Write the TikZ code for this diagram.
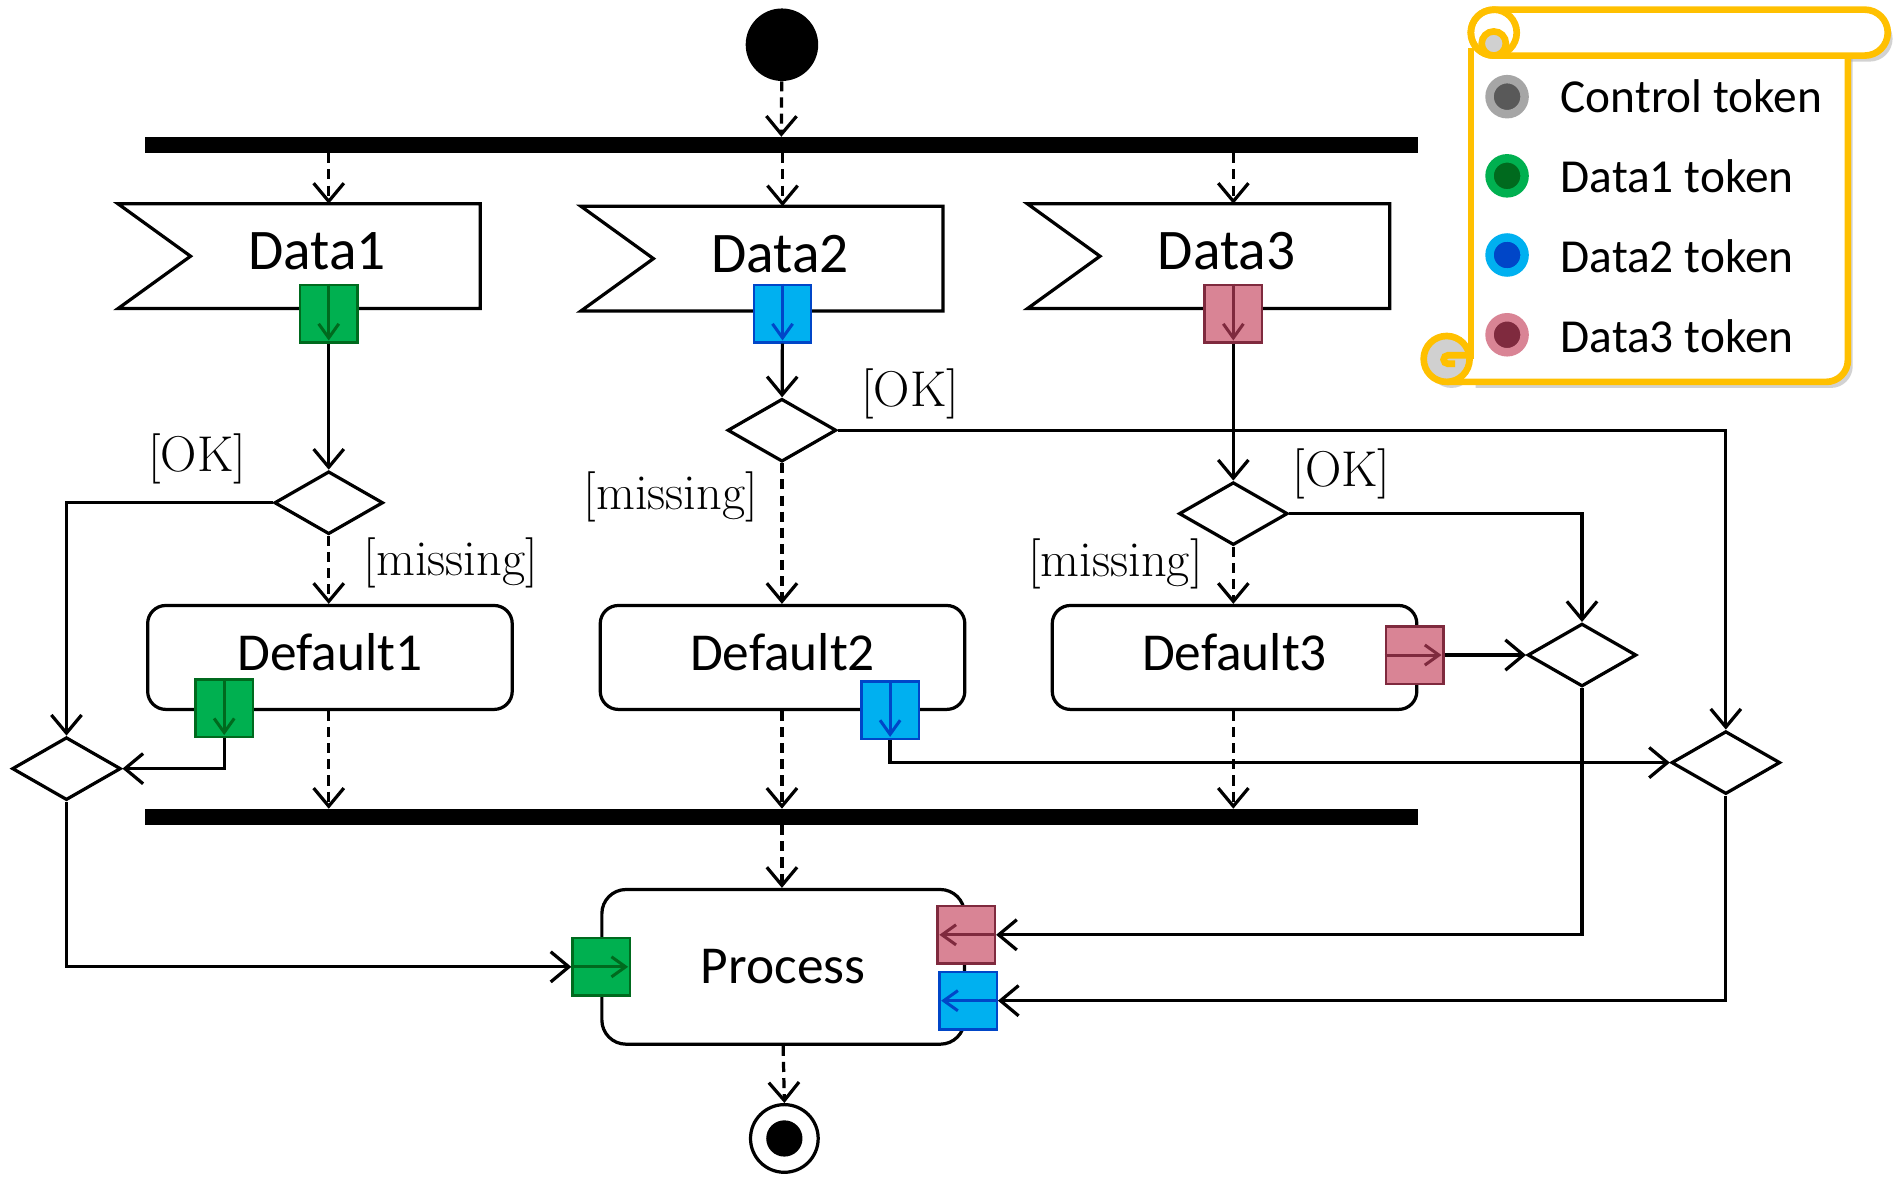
\documentclass[tikz,border=0pt]{standalone}
\usepackage{fontspec}
\newfontfamily\calibfont{Carlito}
\usetikzlibrary{arrows.meta,shapes.geometric}

\definecolor{dataA}{HTML}{00B050}
\definecolor{dataAdark}{HTML}{006A1E}
\definecolor{dataB}{HTML}{00B0F0}
\definecolor{dataBdark}{HTML}{0046C8}
\definecolor{dataC}{HTML}{D98495}
\definecolor{dataCdark}{HTML}{7F2A3E}
\definecolor{ctrlA}{HTML}{A6A6A6}
\definecolor{ctrlAdark}{HTML}{595959}
\definecolor{scrollc}{HTML}{FFC000}
\definecolor{curl}{HTML}{D0D0D0}

\newcommand\nodefont{\calibfont\fontsize{26.5}{32}\selectfont}
\newcommand\eventfont{\calibfont\fontsize{28.5}{34}\selectfont}

\tikzset{
  flow/.style={line width=1.6pt, -{Straight Barb[length=9pt,width=15pt]}},
  ctrl/.style={flow, dash pattern=on 5pt off 3pt},
  event/.style={draw=none, inner sep=0pt, minimum width=179.4pt, minimum height=51.6pt,
    label={[font=\eventfont, xshift=9pt, yshift=2.4pt]center:#1}},
  action/.style={draw, line width=1.6pt, rounded corners=9pt, inner sep=0pt, text depth=5pt,
    minimum width=181pt, minimum height=51.6pt, font=\nodefont},
  decision/.style={draw, diamond, line width=1.6pt, inner sep=0pt,
    minimum width=54pt, minimum height=31.2pt},
  syncbar/.style={fill=black, inner sep=0pt, minimum width=632pt, minimum height=7.8pt},
  pinbox/.style={draw=#1dark, fill=#1, line width=1.2pt, inner sep=0pt, minimum size=28.5pt},
  pinflow/.style={draw=#1dark, line width=1.5pt, -{Straight Barb[length=7pt,width=10pt]}, shorten >=1.5pt},
  guard/.style={font=\fontsize{25}{30}\selectfont},
  token/.style={circle, draw=#1, fill=#1dark, line width=4.2pt, inner sep=0pt, minimum size=17.4pt},
  legendtext/.style={anchor=west, inner sep=0pt, font=\calibfont\fontsize{23.5}{28}\selectfont},
  scrollline/.style={draw=scrollc, line width=3.3pt},
}

\begin{document}
\begin{tikzpicture}[x=0.6pt, y=-0.6pt]
\useasboundingbox (0,0) rectangle (1568,974);

% initial node and fork
\node[circle, fill=black, minimum size=36pt, inner sep=0pt] (start) at (647,37) {};
\node[syncbar] (fork) at (646.5,120) {};

% accept event actions
\node[event=Data1] (d1) at (247.5,212) {};
\draw[line width=1.6pt] (d1.north west) -- (d1.north east) -- (d1.south east) -- (d1.south west) -- ([xshift=36pt]d1.west) -- cycle;
\node[event=Data2] (d2) at (630.5,214) {};
\draw[line width=1.6pt] (d2.north west) -- (d2.north east) -- (d2.south east) -- (d2.south west) -- ([xshift=36pt]d2.west) -- cycle;
\node[event=Data3] (d3) at (1000,212) {};
\draw[line width=1.6pt] (d3.north west) -- (d3.north east) -- (d3.south east) -- (d3.south west) -- ([xshift=36pt]d3.west) -- cycle;

\node[pinbox=dataA] (p1) at (272,259.5) {};
\draw[pinflow=dataA] (p1.north) -- (p1.south);
\node[pinbox=dataB] (p2) at (647.5,259.5) {};
\draw[pinflow=dataB] (p2.north) -- (p2.south);
\node[pinbox=dataC] (p3) at (1020.5,259.5) {};
\draw[pinflow=dataC] (p3.north) -- (p3.south);

% decisions and merges
\node[decision] (dec1) at (272,416) {};
\node[decision] (dec2) at (647,356) {};
\node[decision] (dec3) at (1020.5,425) {};
\node[decision] (mrg1) at (55,636) {};
\node[decision] (mrg2) at (1428,631) {};
\node[decision] (mrg3) at (1309,542) {};

% default actions
\node[action] (def1) at (273,544) {Default1};
\node[action] (def2) at (647.5,544) {Default2};
\node[action] (def3) at (1021.5,544) {Default3};
\node[pinbox=dataA] (q1) at (185.5,586) {};
\draw[pinflow=dataA] (q1.north) -- (q1.south);
\node[pinbox=dataB] (q2) at (736.5,587.5) {};
\draw[pinflow=dataB] (q2.north) -- (q2.south);
\node[pinbox=dataC] (q3) at (1170.5,542) {};
\draw[pinflow=dataC] (q3.west) -- (q3.east);

% join and process
\node[syncbar] (join) at (647,676) {};
\node[action, rounded corners=12pt, text depth=0pt, minimum width=180pt, minimum height=76.8pt] (proc) at (648,800) {Process};
\node[pinbox=dataA] (r1) at (497.5,800) {};
\draw[pinflow=dataA] (r1.west) -- (r1.east);
\node[pinbox=dataC] (r3) at (799.5,773.5) {};
\draw[pinflow=dataC] (r3.east) -- (r3.west);
\node[pinbox=dataB] (r2) at (801,828) {};
\draw[pinflow=dataB] (r2.east) -- (r2.west);

% final node
\node[circle, draw, line width=1.6pt, minimum size=33.6pt, inner sep=0pt] (final) at (649,942) {};
\fill (final.center) circle[radius=9pt];

% control flows
\draw[ctrl] (start) -- (fork.north);
\draw[ctrl] (fork.south -| p1) -- (p1 |- d1.north);
\draw[ctrl] (fork.south -| p2) -- (p2 |- d2.north);
\draw[ctrl] (fork.south -| p3) -- (p3 |- d3.north);
\draw[ctrl] (dec1.south) -- (dec1.south |- def1.north);
\draw[ctrl] (dec2.south) -- (dec2.south |- def2.north);
\draw[ctrl] (dec3.south) -- (dec3.south |- def3.north);
\draw[ctrl] (def1.south -| dec1) -- (dec1 |- join.north);
\draw[ctrl] (def2.south -| dec2) -- (dec2 |- join.north);
\draw[ctrl] (def3.south -| dec3) -- (dec3 |- join.north);
\draw[ctrl] (join.south -| dec2) -- (dec2 |- proc.north);
\draw[ctrl] (proc.south) -- (final.north);

% object flows
\draw[flow] (p1) -- (dec1);
\draw[flow] (p2) -- (dec2);
\draw[flow] (p3) -- (dec3);
\draw[flow] (dec1.west) -| (mrg1.north);
\draw[flow] (dec2.east) -| (mrg2.north);
\draw[flow] (dec3.east) -| (mrg3.north);
\draw[flow] (q1.south) |- (mrg1.east);
\draw[flow] (q2.south) |- (mrg2.west);
\draw[flow] (q3.east) -- (mrg3.west);
\draw[flow] (mrg1.south) |- (r1.west);
\draw[flow] (mrg3.south) |- (r3.east);
\draw[flow] (mrg2.south) |- (r2.east);

% guards
\node[guard] (ok1) at (163,380) {[OK]};
\node[guard] (miss1) at (373,466) {[missing]};
\node[guard] (ok2) at (753,326) {[OK]};
\node[guard] (miss2) at (555,411) {[missing]};
\node[guard] (ok3) at (1110,392) {[OK]};
\node[guard] (miss3) at (923,467) {[missing]};

% legend scroll
\begin{scope}[shift={(4,5)}, fill=black!35, opacity=.5]
  \fill (1217,40) -- (1217,316) -- (1511,316) arc[start angle=90, end angle=0, radius=18] -- (1529,40) -- cycle;
  \fill (1236,8) -- (1543,8) arc[start angle=-90, end angle=90, radius=19] -- (1236,46) arc[start angle=90, end angle=270, radius=19] -- cycle;
  \fill (1197,297) circle[radius=19];
\end{scope}
\fill[white] (1197,316) -- (1511,316) arc[start angle=90, end angle=0, radius=18] -- (1529,40) -- (1217,40) -- (1217,297) -- cycle;
\draw[scrollline] (1217,40) -- (1217,297);
\draw[scrollline] (1197,316) -- (1511,316) arc[start angle=90, end angle=0, radius=18] -- (1529,40);
\filldraw[scrollline, fill=curl] (1197,297) circle[radius=19];
\draw[scrollline] (1216,294) -- (1198,294) arc[start angle=-90, end angle=-270, radius=3.5] -- (1204,301);
\filldraw[scrollline, fill=white] (1236,8) -- (1543,8) arc[start angle=-90, end angle=90, radius=19] -- (1236,46) arc[start angle=90, end angle=270, radius=19] -- cycle;
\draw[scrollline] (1236,27) circle[radius=19];
\filldraw[scrollline, fill=curl] (1236,36) circle[radius=10];

% legend entries
\node[token=ctrlA] (tk0) at (1247,80) {};
\node[legendtext] (lg0) at (1291,80) {Control token};
\node[token=dataA] (tk1) at (1247,145.5) {};
\node[legendtext] (lg1) at (1291,146) {Data1 token};
\node[token=dataB] (tk2) at (1247,211) {};
\node[legendtext] (lg2) at (1291,212) {Data2 token};
\node[token=dataC] (tk3) at (1247,277) {};
\node[legendtext] (lg3) at (1291,278.5) {Data3 token};
\end{tikzpicture}
\end{document}
